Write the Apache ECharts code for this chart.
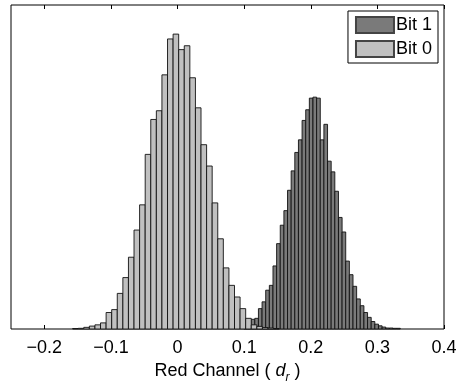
<!DOCTYPE html>
<html>
<head>
<meta charset="utf-8">
<script src="https://cdn.jsdelivr.net/npm/echarts@6/dist/echarts.min.js"></script>
<style>
  html, body { margin: 0; padding: 0; background: #fff; }
  #chart { width: 460px; height: 389px; }
</style>
</head>
<body>
<div id="chart"></div>
<script>
// tick positions on the x axis
var xTicks = [-0.2, -0.1, 0, 0.1, 0.2, 0.3, 0.4];

// Bit 0 histogram: first bin edge, bin width, bin heights
var bit0Start = -0.1575;
var bit0Width = 0.00838;
var bit0Counts = [0.5, 0.7, 1.7, 3, 4.3, 6.3, 17, 20, 36.7, 53, 74, 102, 128, 180, 216, 225,
  262, 299, 304, 288, 292, 259, 228, 190, 168, 130, 93, 63, 45, 33, 21, 11, 4.3, 2.7, 1.5, 1, 0.5];

// Bit 1 histogram
var bit1Start = 0.0996;
var bit1Width = 0.00546;
var bit1Counts = [1, 3, 10, 11, 21, 28, 40, 45, 65, 88, 107, 122, 143, 163, 182, 195, 215, 226,
  238, 239, 238, 195, 211, 173, 162, 142, 115, 100, 70, 56, 44, 31, 24, 17, 12, 7.7, 5, 3.3, 2, 1, 1, 0.7, 0.7];

var FONT = 'Liberation Sans, Arial, Helvetica, sans-serif';

function toBins(start, width, counts) {
  var out = [];
  for (var i = 0; i < counts.length; i++) {
    out.push([start + i * width, start + (i + 1) * width, counts[i]]);
  }
  return out;
}

function histSeries(name, color, start, width, counts) {
  return {
    name: name,
    type: 'custom',
    itemStyle: { color: color, borderColor: '#444', borderWidth: 1 },
    encode: { x: [0, 1], y: 2 },
    data: toBins(start, width, counts),
    renderItem: function (params, api) {
      var p0 = api.coord([api.value(0), api.value(2)]);
      var p1 = api.coord([api.value(1), 0]);
      return {
        type: 'rect',
        shape: { x: p0[0], y: p0[1], width: p1[0] - p0[0], height: p1[1] - p0[1] },
        style: { fill: color, stroke: '#111', lineWidth: 0.9 }
      };
    }
  };
}

var chart = echarts.init(document.getElementById('chart'));
chart.setOption({
  animation: false,
  backgroundColor: '#fff',
  grid: {
    left: 11, right: 16, top: 5, bottom: 50,
    show: true, borderColor: '#000', borderWidth: 1
  },
  legend: {
    orient: 'vertical',
    right: 22, top: 11,
    data: ['Bit 1', 'Bit 0'],
    icon: 'rect',
    itemWidth: 38, itemHeight: 16, itemGap: 6,
    padding: [5, 6, 5, 7],
    borderColor: '#000', borderWidth: 1,
    backgroundColor: '#fff',
    textStyle: { color: '#000', fontFamily: FONT, fontSize: 18, padding: [0, 0, 0, -3] }
  },
  xAxis: [{
    type: 'value',
    min: -0.25, max: 0.4,
    position: 'bottom',
    splitLine: { show: false },
    axisLine: { show: false },
    axisTick: { show: true, inside: true, length: 4, lineStyle: { color: '#000' }, customValues: xTicks },
    axisLabel: {
      customValues: xTicks,
      color: '#000', fontFamily: FONT, fontSize: 18, margin: 10,
      formatter: function (v) {
        var s = String(Math.round(v * 10) / 10);
        return s.replace('-', '\u2212');
      }
    },
    name: 'Red Channel ( {i|d}{s|r} )',
    nameLocation: 'middle',
    nameGap: 29,
    nameTextStyle: {
      color: '#000', fontFamily: FONT, fontSize: 18,
      rich: {
        i: { fontFamily: FONT, fontSize: 18, fontStyle: 'italic', color: '#000' },
        s: { fontFamily: FONT, fontSize: 12, fontStyle: 'italic', color: '#000', padding: [14, 0, 0, 0] }
      }
    }
  }, {
    type: 'value',
    min: -0.25, max: 0.4,
    position: 'top',
    splitLine: { show: false },
    axisLine: { show: false },
    axisTick: { show: true, inside: true, length: 4, lineStyle: { color: '#000' }, customValues: xTicks },
    axisLabel: { show: false }
  }],
  yAxis: {
    type: 'value',
    min: 0, max: 334,
    splitLine: { show: false },
    axisLine: { show: false },
    axisTick: { show: false },
    axisLabel: { show: false }
  },
  series: [
    histSeries('Bit 1', '#7a7a7a', bit1Start, bit1Width, bit1Counts),
    histSeries('Bit 0', '#c0c0c0', bit0Start, bit0Width, bit0Counts)
  ]
});
</script>
</body>
</html>
